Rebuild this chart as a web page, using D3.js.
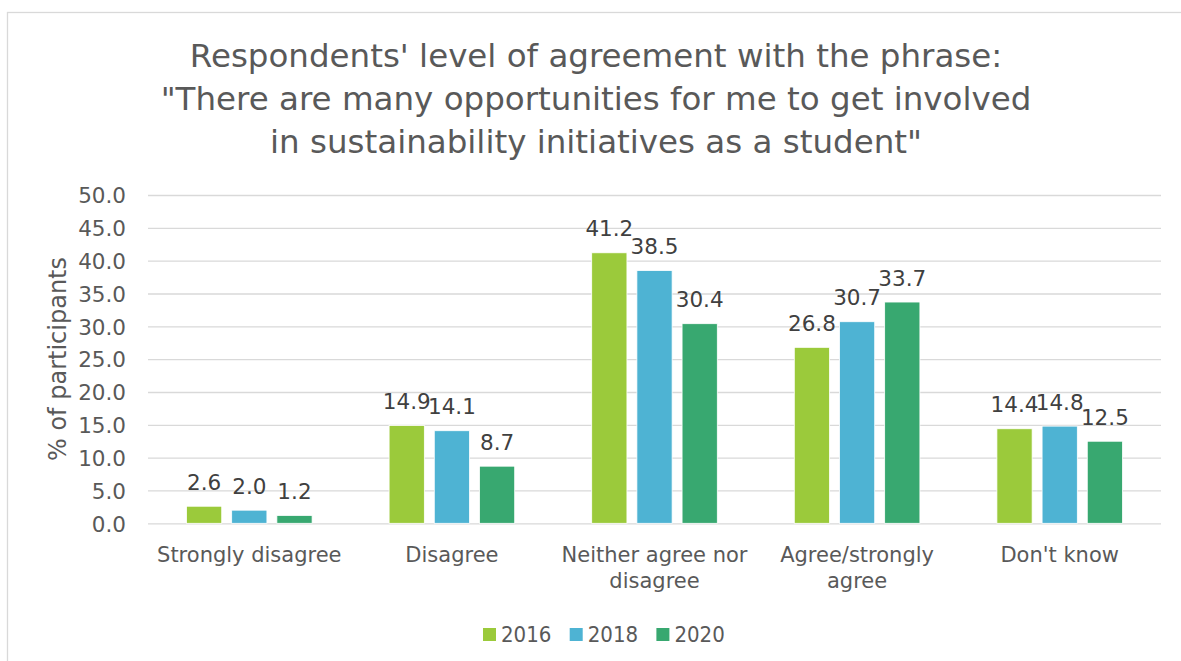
<!DOCTYPE html>
<html>
<head>
<meta charset="utf-8">
<script src="https://cdn.jsdelivr.net/npm/d3@7"></script>
<style>
  html, body { margin: 0; padding: 0; background: #ffffff; }
  svg { display: block; }
  text { font-family: "DejaVu Sans", sans-serif; }
  .legend-label { font-family: "DejaVu Sans Condensed", "DejaVu Sans", sans-serif; font-stretch: condensed; }
</style>
</head>
<body>
<script>
// Survey responses, % of participants per answer and year
const categories = ["Strongly disagree", "Disagree", "Neither agree nor disagree", "Agree/strongly agree", "Don't know"];
const categoryLines = [["Strongly disagree"], ["Disagree"], ["Neither agree nor", "disagree"], ["Agree/strongly", "agree"], ["Don't know"]];
const years = ["2016", "2018", "2020"];
const values2016 = [2.6, 14.9, 41.2, 26.8, 14.4];
const values2018 = [2.0, 14.1, 38.5, 30.7, 14.8];
const values2020 = [1.2, 8.7, 30.4, 33.7, 12.5];
const yTicks = [0, 5, 10, 15, 20, 25, 30, 35, 40, 45, 50];
const titleLines = [
  "Respondents' level of agreement with the phrase:",
  "\"There are many opportunities for me to get involved",
  "in sustainability initiatives as a student\""
];
const yAxisTitle = "% of participants";

const seriesValues = { "2016": values2016, "2018": values2018, "2020": values2020 };
const colors = { "2016": "#9BCA3B", "2018": "#4EB3D3", "2020": "#38A870" };

const W = 1181, H = 661;
const plot = { left: 148, right: 1161, top: 195, bottom: 523.3 };

const svg = d3.select("body").append("svg").attr("width", W).attr("height", H);

// outer chart frame
svg.append("rect")
  .attr("x", 7.5).attr("y", 12.5)
  .attr("width", W + 20).attr("height", H + 20)
  .attr("fill", "none").attr("stroke", "#d9d9d9").attr("stroke-width", 1.3);

// title
svg.append("g").selectAll("text").data(titleLines).join("text")
  .attr("x", 596).attr("y", (d, i) => 67 + i * 43)
  .attr("text-anchor", "middle")
  .attr("font-size", 32.5).attr("fill", "#595959")
  .text(d => d);

const y = d3.scaleLinear().domain([0, 50]).range([plot.bottom, plot.top]);
const x0 = d3.scaleBand().domain(categories).range([plot.left, plot.right])
  .paddingInner(0.38).paddingOuter(0.19);
const x1 = d3.scaleBand().domain(years).range([0, x0.bandwidth()]).paddingInner(0.22);

// gridlines and value axis
const yAxis = d3.axisLeft(y).tickValues(yTicks).tickFormat(d3.format(".1f"))
  .tickSize(-(plot.right - plot.left)).tickPadding(22);
const gy = svg.append("g").attr("transform", `translate(${plot.left},0)`).call(yAxis);
gy.attr("font-family", null);
gy.select(".domain").remove();
gy.selectAll(".tick line").attr("stroke", "#d9d9d9").attr("stroke-width", 1.3);
gy.selectAll(".tick text").attr("font-size", 21.5).attr("fill", "#595959")
  .attr("dy", "0.36em");

// axis title
svg.append("text")
  .attr("transform", `translate(66,359) rotate(-90)`)
  .attr("text-anchor", "middle")
  .attr("font-size", 24).attr("fill", "#595959")
  .text(yAxisTitle);

// bars
const groups = svg.append("g").selectAll("g").data(categories).join("g")
  .attr("transform", d => `translate(${x0(d)},0)`);

groups.selectAll("rect")
  .data((c, ci) => years.map(yr => ({ yr, v: seriesValues[yr][ci] })))
  .join("rect")
  .attr("x", d => x1(d.yr))
  .attr("y", d => y(d.v))
  .attr("width", x1.bandwidth())
  .attr("height", d => y(0) - y(d.v))
  .attr("fill", d => colors[d.yr])
  .attr("stroke", "#ffffff").attr("stroke-width", 0.8);

// value labels
groups.selectAll("text.val")
  .data((c, ci) => years.map(yr => ({ yr, v: seriesValues[yr][ci] })))
  .join("text").attr("class", "val")
  .attr("x", d => x1(d.yr) + x1.bandwidth() / 2)
  .attr("y", d => y(d.v) - 16.5)
  .attr("text-anchor", "middle")
  .attr("font-size", 21.5).attr("fill", "#404040")
  .text(d => d3.format(".1f")(d.v));

// category labels
const cat = svg.append("g").selectAll("text").data(categories).join("text")
  .attr("x", d => x0(d) + x0.bandwidth() / 2)
  .attr("y", 562)
  .attr("text-anchor", "middle")
  .attr("font-size", 21).attr("fill", "#595959");
cat.selectAll("tspan").data((d, i) => categoryLines[i]).join("tspan")
  .attr("x", function () { return d3.select(this.parentNode).attr("x"); })
  .attr("dy", (d, i) => i === 0 ? 0 : 26)
  .text(d => d);

// legend
const legend = svg.append("g").selectAll("g").data(years).join("g")
  .attr("transform", (d, i) => `translate(${483 + i * 86.7},0)`);
legend.append("rect")
  .attr("x", 0).attr("y", 628).attr("width", 13).attr("height", 13)
  .attr("fill", d => colors[d]);
legend.append("text").attr("class", "legend-label")
  .attr("x", 18).attr("y", 642)
  .attr("font-size", 22).attr("fill", "#595959")
  .text(d => d);
</script>
</body>
</html>
